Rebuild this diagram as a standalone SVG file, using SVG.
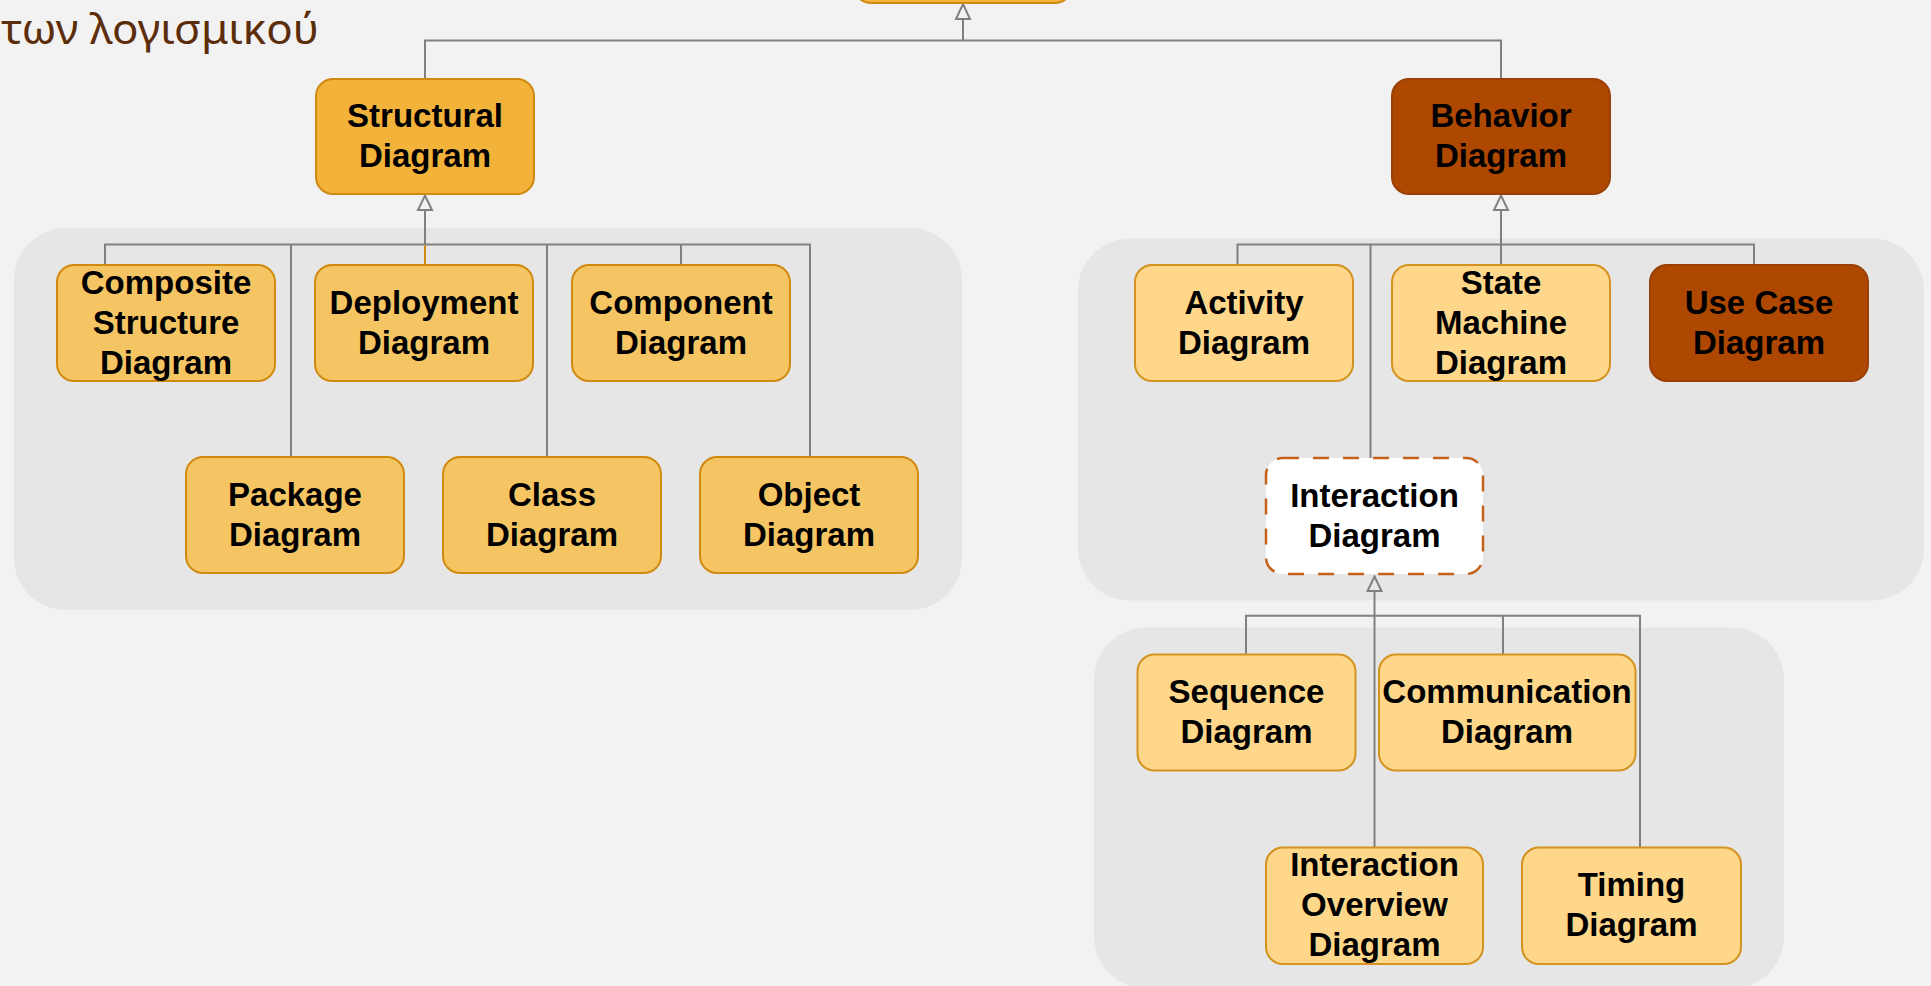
<svg xmlns="http://www.w3.org/2000/svg" width="1931" height="986" viewBox="0 0 1931 986">
<defs>
<style>
.bg{fill:#F2F2F2}
.cont{fill:#E6E6E6}
.n rect{stroke-width:2}
.main rect{fill:#F3B23A;stroke:#CF8A12}
.str rect{fill:#F5C563;stroke:#D08A10}
.beh rect{fill:#FFD78A;stroke:#D49320}
.dark rect{fill:#AE4800;stroke:#9A3F05}
.dash rect{fill:#FFFFFF;stroke:#C4621C;stroke-width:2.5;stroke-dasharray:16 14}
.n text{font-family:"Liberation Sans",Arial,sans-serif;font-weight:bold;font-size:33px;fill:#000;text-anchor:middle}
.c{fill:none;stroke:#808080;stroke-width:2}
.ah{fill:none;stroke:#808080;stroke-width:2;stroke-linejoin:miter}
.title{font-family:"Noto Sans","Open Sans",sans-serif;font-size:42px;fill:#5C2D0A}
</style>
</defs>
<rect class="bg" x="0" y="0" width="1931" height="986"/>
<text class="title" x="1" y="44" textLength="318" lengthAdjust="spacingAndGlyphs">των λογισμικού</text>
<g id="containers">
<rect class="cont" x="14" y="228" width="948" height="382" rx="52" ry="52"/>
<rect class="cont" x="1078" y="238.5" width="846" height="362" rx="52" ry="52"/>
<rect class="cont" x="1094" y="627.5" width="690" height="361" rx="52" ry="52"/>
</g>
<g id="connectors">
<path class="c" d="M963 19 V40.5 M425 79 V40.5 H1501 V79"/>
<path class="ah" d="M963 4 L970 19 L956 19 Z"/>
<path class="c" d="M425 210 V244.5 M105 265 V244.5 H810 V457 M291 244.5 V457 M547 244.5 V457 M681 244.5 V265"/>
<path d="M425 245.5 V265" fill="none" stroke="#D08A10" stroke-width="2"/>
<path class="ah" d="M425 195.5 L432 210 L418 210 Z"/>
<path class="c" d="M1501 210 V265 M1237.5 265 V244.5 H1754 V265 M1370.5 244.5 V458"/>
<path class="ah" d="M1501 195.5 L1508 210 L1494 210 Z"/>
<path class="c" d="M1374.5 591 V847.5 M1246 654.5 V615.7 H1640 V847.5 M1503 615.7 V654.5"/>
<path class="ah" d="M1374.5 576.5 L1381.5 591 L1367.5 591 Z"/>
</g>
<g id="root" class="n main"><rect x="854" y="-112" width="218" height="115" rx="17"/></g>
<g id="structural" class="n main"><rect x="316" y="79" width="218" height="115" rx="17"/><text x="425" y="126.5">Structural</text><text x="425" y="166.5">Diagram</text></g>
<g id="behavior" class="n dark"><rect x="1392" y="79" width="218" height="115" rx="17"/><text x="1501" y="126.5">Behavior</text><text x="1501" y="166.5">Diagram</text></g>
<g id="composite" class="n str"><rect x="57" y="265" width="218" height="116" rx="17"/><text x="166" y="293.5">Composite</text><text x="166" y="333.5">Structure</text><text x="166" y="373.5">Diagram</text></g>
<g id="deployment" class="n str"><rect x="315" y="265" width="218" height="116" rx="17"/><text x="424" y="313.5">Deployment</text><text x="424" y="353.5">Diagram</text></g>
<g id="component" class="n str"><rect x="572" y="265" width="218" height="116" rx="17"/><text x="681" y="313.5">Component</text><text x="681" y="353.5">Diagram</text></g>
<g id="package" class="n str"><rect x="186" y="457" width="218" height="116" rx="17"/><text x="295" y="505.5">Package</text><text x="295" y="545.5">Diagram</text></g>
<g id="class" class="n str"><rect x="443" y="457" width="218" height="116" rx="17"/><text x="552" y="505.5">Class</text><text x="552" y="545.5">Diagram</text></g>
<g id="object" class="n str"><rect x="700" y="457" width="218" height="116" rx="17"/><text x="809" y="505.5">Object</text><text x="809" y="545.5">Diagram</text></g>
<g id="activity" class="n beh"><rect x="1135" y="265" width="218" height="116" rx="17"/><text x="1244" y="313.5">Activity</text><text x="1244" y="353.5">Diagram</text></g>
<g id="statemachine" class="n beh"><rect x="1392" y="265" width="218" height="116" rx="17"/><text x="1501" y="293.5">State</text><text x="1501" y="333.5">Machine</text><text x="1501" y="373.5">Diagram</text></g>
<g id="usecase" class="n dark"><rect x="1650" y="265" width="218" height="116" rx="17"/><text x="1759" y="313.5">Use Case</text><text x="1759" y="353.5">Diagram</text></g>
<g id="interaction" class="n dash"><rect x="1266" y="458" width="217" height="116" rx="17"/><text x="1374.5" y="506.5">Interaction</text><text x="1374.5" y="546.5">Diagram</text></g>
<g id="sequence" class="n beh"><rect x="1137.5" y="654.5" width="218" height="116" rx="17"/><text x="1246.5" y="702.5">Sequence</text><text x="1246.5" y="742.5">Diagram</text></g>
<g id="communication" class="n beh"><rect x="1379" y="654.5" width="256.5" height="116" rx="17"/><text x="1507" y="702.5">Communication</text><text x="1507" y="742.5">Diagram</text></g>
<g id="interactionoverview" class="n beh"><rect x="1266" y="847.5" width="217" height="116.5" rx="17"/><text x="1374.5" y="876">Interaction</text><text x="1374.5" y="916">Overview</text><text x="1374.5" y="956">Diagram</text></g>
<g id="timing" class="n beh"><rect x="1522" y="847.5" width="219" height="116.5" rx="17"/><text x="1631.5" y="896">Timing</text><text x="1631.5" y="936">Diagram</text></g>
</svg>
